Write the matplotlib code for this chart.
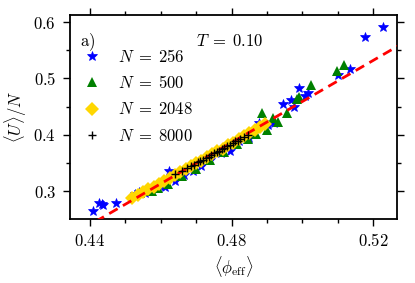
import matplotlib
matplotlib.use("Agg")
import matplotlib.pyplot as plt
from matplotlib.ticker import MultipleLocator, FuncFormatter

plt.rcParams['mathtext.fontset'] = 'cm'
plt.rcParams['font.family'] = ['DejaVu Serif']

# N = 256 (blue stars)
x256 = [0.4409, 0.4426, 0.4433, 0.4438, 0.4473, 0.4527, 0.4540, 0.4556, 0.4575, 0.4598,
        0.4612, 0.4624, 0.4640, 0.4665, 0.4690, 0.4715, 0.4740, 0.4770, 0.4795, 0.4822,
        0.4850, 0.4878, 0.4904, 0.4920, 0.4946, 0.4968, 0.4977, 0.4991, 0.5007, 0.5016,
        0.5101, 0.5134, 0.5178, 0.5226]
y256 = [0.265, 0.279, 0.277, 0.275, 0.278, 0.295, 0.298, 0.296, 0.305, 0.309,
        0.308, 0.336, 0.318, 0.328, 0.336, 0.344, 0.356, 0.368, 0.372, 0.388,
        0.394, 0.421, 0.418, 0.421, 0.455, 0.4625, 0.449, 0.4834, 0.468, 0.4745,
        0.506, 0.517, 0.574, 0.592]

# N = 500 (green triangles)
x500 = [0.4541, 0.4555, 0.4575, 0.4593, 0.4620, 0.4660, 0.4700, 0.4740, 0.4780, 0.4815,
        0.4845, 0.4870, 0.4885, 0.4900, 0.4916, 0.4930, 0.4956, 0.4984, 0.4991, 0.5024,
        0.5097, 0.5117]
y500 = [0.297, 0.300, 0.301, 0.305, 0.312, 0.326, 0.340, 0.355, 0.370, 0.383,
        0.393, 0.401, 0.439, 0.409, 0.430, 0.422, 0.439, 0.4638, 0.467, 0.489,
        0.513, 0.523]

# N = 2048 (gold diamonds)
x2048 = [0.4520, 0.4535, 0.4550, 0.4565, 0.4580, 0.4595, 0.4610, 0.4625, 0.4640, 0.4655,
         0.4670, 0.4685, 0.4700, 0.4715, 0.4730, 0.4745, 0.4760, 0.4775, 0.4790, 0.4805,
         0.4820, 0.4835, 0.4850, 0.4865, 0.4880, 0.4895]
y2048 = [0.288, 0.293, 0.299, 0.303, 0.308, 0.312, 0.318, 0.323, 0.329, 0.333,
         0.339, 0.344, 0.350, 0.354, 0.360, 0.365, 0.371, 0.375, 0.381, 0.386,
         0.392, 0.397, 0.403, 0.408, 0.414, 0.419]

# N = 8000 (black plus)
x8000 = [0.4640, 0.4660, 0.4675, 0.4685, 0.4695, 0.4705, 0.4712, 0.4720, 0.4728, 0.4735,
         0.4742, 0.4750, 0.4758, 0.4765, 0.4772, 0.4780, 0.4788, 0.4795, 0.4803, 0.4810,
         0.4818, 0.4825, 0.4835, 0.4845]
y8000 = [0.3300, 0.3350, 0.3405, 0.3440, 0.3470, 0.3510, 0.3530, 0.3560, 0.3590, 0.3610,
         0.3640, 0.3670, 0.3690, 0.3720, 0.3740, 0.3770, 0.3800, 0.3820, 0.3850, 0.3880,
         0.3890, 0.3930, 0.3960, 0.3990]

# linear fit line (dashed red)
fit_x = [0.4300, 0.5300]
fit_slope = 3.65
fit_x0 = 0.443
fit_y0 = 0.251
fit_y = [fit_y0 + fit_slope * (v - fit_x0) for v in fit_x]

fig = plt.figure(figsize=(4.15, 2.83), dpi=100)
ax = fig.add_axes([0.1687, 0.2261, 0.7880, 0.7208])

ax.plot(x256, y256, linestyle='none', marker='*', color='#0000ff', markersize=7.5,
        markeredgewidth=0.5, label=r'$N\;=\;256$', zorder=2)
ax.plot(x500, y500, linestyle='none', marker='^', color='#008000', markersize=7,
        markeredgewidth=0, label=r'$N\;=\;500$', zorder=3)
ax.plot(x2048, y2048, linestyle='none', marker='D', color='#ffd700', markersize=7,
        markeredgewidth=0, label=r'$N\;=\;2048$', zorder=4)
ax.plot(fit_x, fit_y, linestyle=(0, (3.5, 2.2)), color='#ff0000', linewidth=2.0, zorder=5)
ax.plot(x8000, y8000, linestyle='none', marker='+', color='black', markersize=6,
        markeredgewidth=1.0, label=r'$N\;=\;8000$', zorder=6)

ax.set_xlim(0.4344, 0.5267)
ax.set_ylim(0.2504, 0.6125)

ax.xaxis.set_major_locator(MultipleLocator(0.04))
ax.xaxis.set_minor_locator(MultipleLocator(0.01))
ax.yaxis.set_major_locator(MultipleLocator(0.1))
ax.yaxis.set_minor_locator(MultipleLocator(0.05))
ax.xaxis.set_major_formatter(FuncFormatter(lambda v, p: r'$%.2f$' % v))
ax.yaxis.set_major_formatter(FuncFormatter(lambda v, p: r'$%.1f$' % v))

ax.tick_params(which='both', direction='out', top=True, right=True, labelsize=12,
               width=1.0, colors='black')
ax.tick_params(which='major', length=5, pad=5)
ax.tick_params(which='minor', length=3)
for s in ax.spines.values():
    s.set_linewidth(1.3)

ax.set_xlabel(r'$\langle\phi_{\rm eff}\rangle$', fontsize=12, labelpad=3)
ax.set_ylabel(r'$\langle U\rangle/N$', fontsize=12, labelpad=3)

ax.text(0.03, 0.868, r'$\mathrm{a)}$', transform=ax.transAxes, fontsize=12, va='center')
ax.text(0.49, 0.868, r'$T\;=\;0.10$', transform=ax.transAxes, fontsize=12,
        ha='center', va='center')

ax.legend(loc='upper left', bbox_to_anchor=(0.0, 0.89), frameon=False, fontsize=12,
          handletextpad=1.0, labelspacing=0.55, borderaxespad=0.3, handlelength=1.2,
          numpoints=1)

fig.savefig('out.png', dpi=100)
